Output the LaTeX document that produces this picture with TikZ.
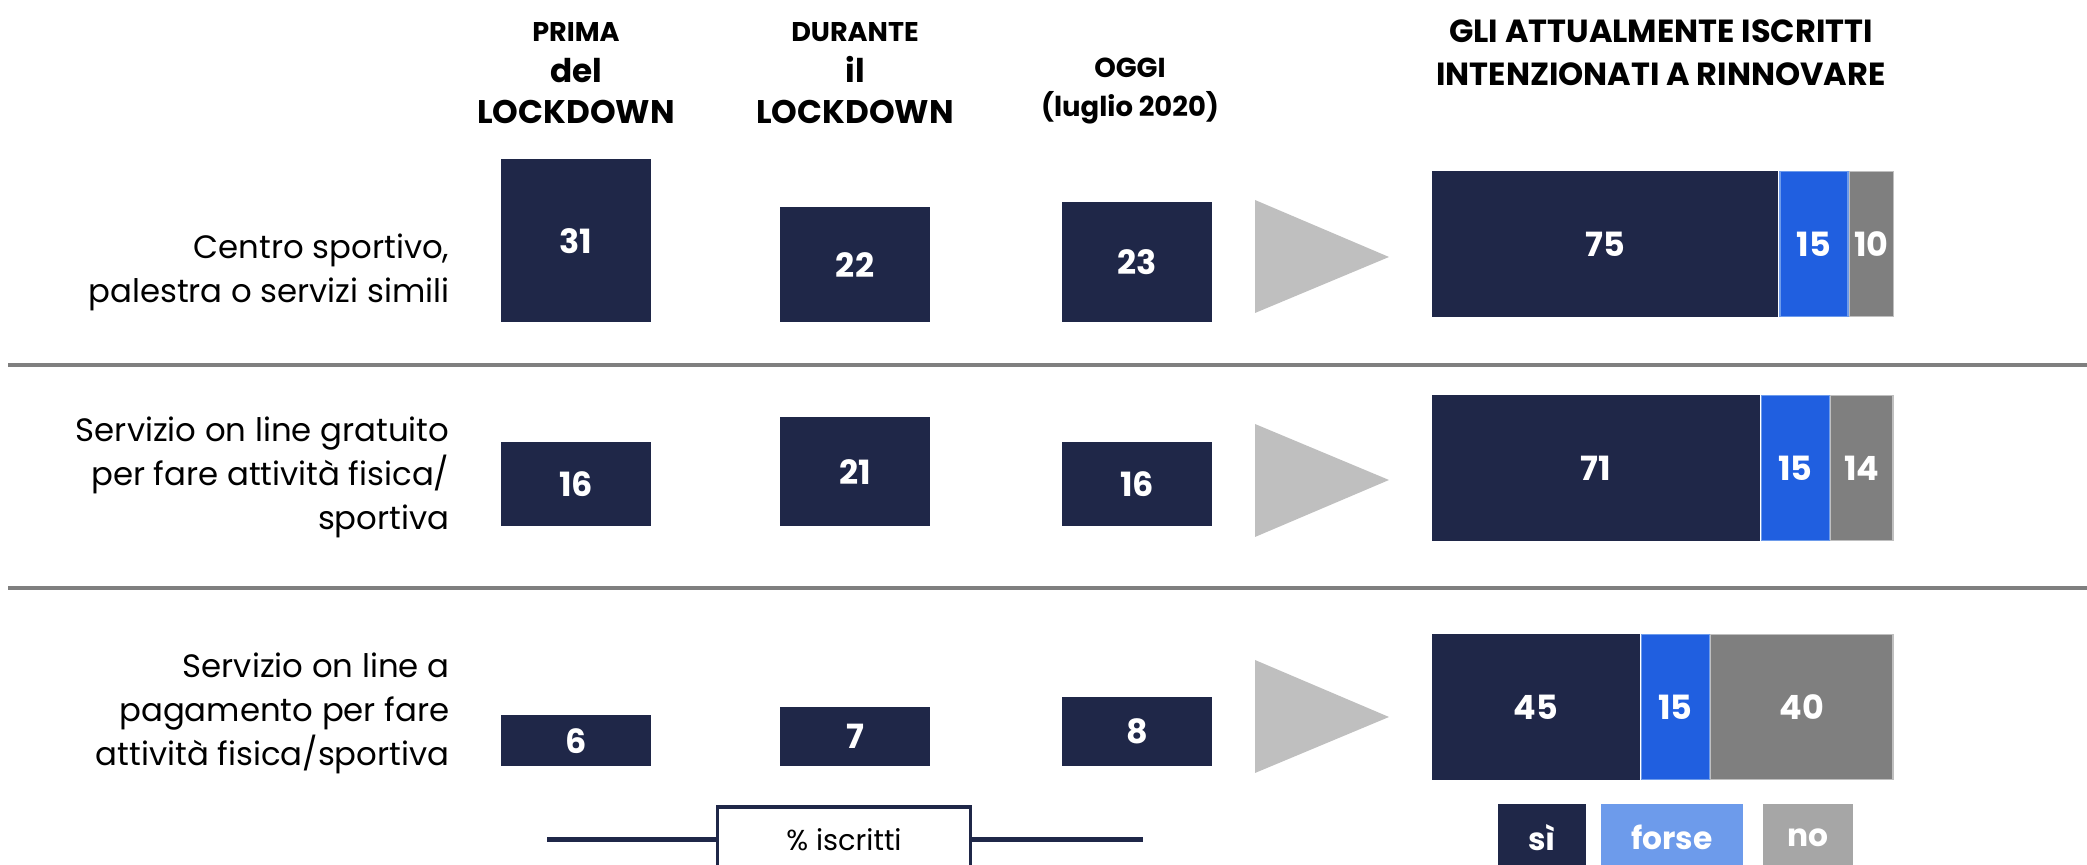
\documentclass[tikz,border=0pt]{standalone}
\usepackage{fontspec}
\setmainfont{Poppins}
\usepackage{xcolor}
\usetikzlibrary{positioning}
\definecolor{navybar}{RGB}{31,39,72}
\definecolor{forseblue}{RGB}{32,95,224}
\definecolor{forselight}{RGB}{109,155,235}
\definecolor{nogray}{RGB}{127,127,127}
\definecolor{nolight}{RGB}{166,166,166}
\definecolor{arrowgray}{RGB}{191,191,191}

\begin{document}
\begin{tikzpicture}[
  x=0.01cm, y=-0.01cm,
  hdr/.style={align=center, inner sep=0pt, anchor=north, font=\bfseries\fontsize{9.3}{11.6}\selectfont},
  rowlabel/.style={align=right, inner sep=0pt, anchor=north east, font=\fontsize{9.2}{12.5}\selectfont},
  pbar/.style={rectangle, fill=navybar, inner sep=0pt, minimum width=1.49cm, anchor=south,
               text=white, font=\bfseries\fontsize{9.5}{11}\selectfont},
  seg/.style={rectangle, inner sep=0pt, minimum height=1.45cm, text=white,
              font=\bfseries\fontsize{9.5}{11}\selectfont},
  legbox/.style={rectangle, inner sep=0pt, minimum height=0.68cm, anchor=north, text=white,
                 font=\bfseries\fontsize{8.9}{11}\selectfont},
  pointer/.style={fill=arrowgray},
  divider/.style={draw=nogray, line width=0.9pt}
]
\useasboundingbox (0,0) rectangle (2087,865);

% column headers
\node[hdr] (hprima) at (576,22) {{\fontsize{7.7}{11.6}\selectfont PRIMA}\\del\\LOCKDOWN};
\node[hdr] (hdurante) at (855,22) {{\fontsize{7.7}{11.6}\selectfont DURANTE}\\il\\LOCKDOWN};
\node[hdr, font=\bfseries\fontsize{7.8}{11.2}\selectfont] (hoggi) at (1130,57) {OGGI\\(luglio 2020)};
\node[hdr, font=\bfseries\fontsize{9.1}{12.2}\selectfont] (hrinnovo) at (1661,19) {GLI ATTUALMENTE ISCRITTI\\INTENZIONATI A RINNOVARE};

% row labels
\node[rowlabel] (lab1) at (450,233) {Centro sportivo,\\palestra o servizi simili};
\node[rowlabel] (lab2) at (450,416) {Servizio on line gratuito\\per fare attività fisica/\\sportiva};
\node[rowlabel] (lab3) at (450,652) {Servizio on line a\\pagamento per fare\\attività fisica/sportiva};

% % iscritti bars
\node[pbar, minimum height=1.63cm] (p11) at (576,323) {31};
\node[pbar, minimum height=1.15cm] (p12) at (855,323) {22};
\node[pbar, minimum height=1.20cm] (p13) at (1137,323) {23};
\node[pbar, minimum height=0.84cm] (p21) at (576,527) {16};
\node[pbar, minimum height=1.09cm] (p22) at (855,527) {21};
\node[pbar, minimum height=0.84cm] (p23) at (1137,527) {16};
\node[pbar, minimum height=0.51cm] (p31) at (576,767) {6};
\node[pbar, minimum height=0.59cm] (p32) at (855,767) {7};
\node[pbar, minimum height=0.69cm] (p33) at (1137,767) {8};

% pointers
\fill[pointer] (1255,200) -- (1389,257) -- (1255,313) -- cycle;
\fill[pointer] (1255,424) -- (1389,480) -- (1255,537) -- cycle;
\fill[pointer] (1255,660) -- (1389,717) -- (1255,773) -- cycle;

% intention to renew
\node[seg, fill=navybar, minimum width=3.465cm, anchor=west] (s1a) at (1431,244) {75};
\node[seg, fill=forseblue, draw=forselight, minimum width=0.68cm, right=0pt of s1a] (s1b) {15};
\node[seg, fill=nogray, draw=arrowgray, minimum width=0.44cm, right=0pt of s1b] (s1c) {10};

\node[seg, fill=navybar, minimum width=3.28cm, anchor=west] (s2a) at (1431,468) {71};
\node[seg, fill=forseblue, draw=forselight, minimum width=0.68cm, right=0pt of s2a] (s2b) {15};
\node[seg, fill=nogray, draw=arrowgray, minimum width=0.62cm, right=0pt of s2b] (s2c) {14};

\node[seg, fill=navybar, minimum width=2.08cm, anchor=west] (s3a) at (1431,707) {45};
\node[seg, fill=forseblue, draw=forselight, minimum width=0.68cm, right=0pt of s3a] (s3b) {15};
\node[seg, fill=nogray, draw=arrowgray, minimum width=1.82cm, right=0pt of s3b] (s3c) {40};

% dividers
\coordinate (d1l) at (8,365);
\coordinate (d1r) at (2087,365);
\coordinate (d2l) at (8,588);
\coordinate (d2r) at (2087,588);
\draw[divider] (d1l) -- (d1r);
\draw[divider] (d2l) -- (d2r);

% legend
\node[rectangle, draw=navybar, line width=1pt, fill=white, minimum width=2.53cm, minimum height=0.66cm,
      anchor=north, font=\fontsize{8.2}{10}\selectfont] (kbox) at (844,805) {\% iscritti};
\coordinate (kl) at (547,0 |- kbox.west);
\coordinate (kr) at (1143,0 |- kbox.east);
\draw[navybar, line width=1.4pt] (kl) -- (kbox.west);
\draw[navybar, line width=1.4pt] (kbox.east) -- (kr);

\node[legbox, fill=navybar, minimum width=0.87cm] (ksi) at (1542,803) {sì};
\node[legbox, fill=forselight, minimum width=1.42cm] (kforse) at (1672,803) {forse};
\node[legbox, fill=nolight, minimum width=0.89cm] (kno) at (1808,803) {no};

\end{tikzpicture}
\end{document}
